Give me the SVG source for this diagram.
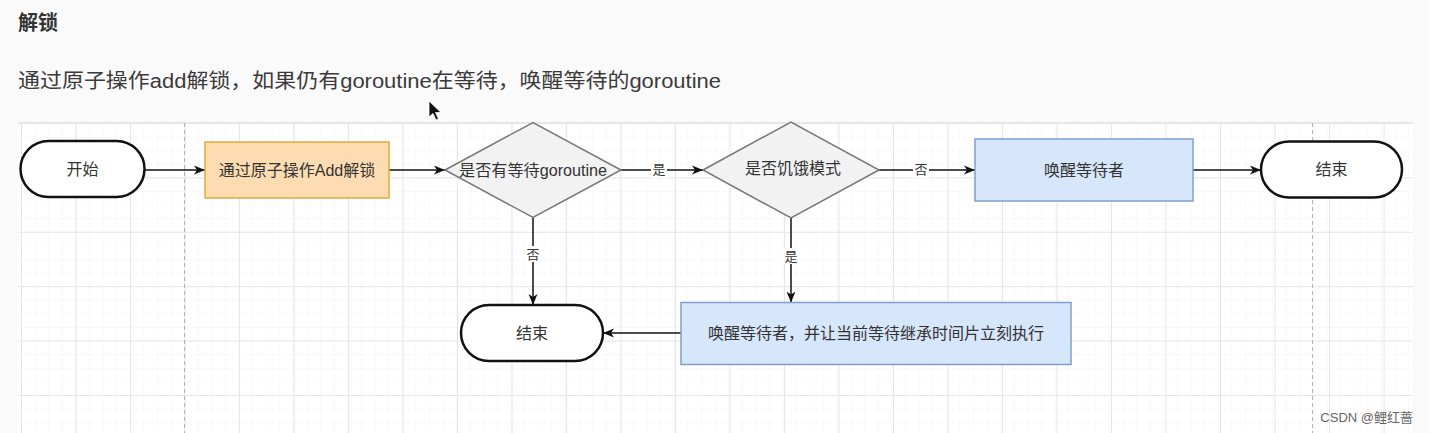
<svg xmlns="http://www.w3.org/2000/svg" width="1429" height="433" viewBox="0 0 1429 433">
<style>
  .t { font-family: "Liberation Sans", "Noto Sans CJK SC", sans-serif; fill: #333; text-anchor: middle; dominant-baseline: central; }
  .node { font-size: 16px; }
  .lbl { font-size: 13px; }
  .term { fill: #ffffff; stroke: #111; stroke-width: 2.5; }
  .proc-o { fill: #fddcb2; stroke: #dcab3e; stroke-width: 1.5; }
  .proc-b { fill: #d6e6fb; stroke: #7f9fcc; stroke-width: 1.5; }
  .dec { fill: #f2f2f2; stroke: #777; stroke-width: 1.5; }
  .edge { fill: none; stroke: #111; stroke-width: 1.5; }
  .lblbg { fill: #ffffff; }
</style>
<defs>
  <pattern id="minor" patternUnits="userSpaceOnUse" x="21" y="123" width="13.6" height="13.6">
    <path d="M0,0 L13.6,0 M0,0 L0,13.6" stroke="#f4f4f4" stroke-width="1" fill="none"/>
  </pattern>
  <pattern id="major" patternUnits="userSpaceOnUse" x="21" y="123" width="54.5" height="54.4">
    <path d="M0,0.5 L54.5,0.5 M0.5,0 L0.5,54.4" stroke="#e6e6e6" stroke-width="1.2" fill="none"/>
  </pattern>
  <marker id="arr" markerUnits="userSpaceOnUse" markerWidth="12" markerHeight="10" refX="11" refY="5" orient="auto">
    <path d="M0,0.5 L11,5 L0,9.5 L3,5 Z" fill="#111"/>
  </marker>
</defs>

<!-- page background -->
<rect x="0" y="0" width="1429" height="433" fill="#fafafa"/>
<text x="18" y="23" style="font-family: 'Liberation Sans','Noto Sans CJK SC',sans-serif; font-size: 20px; font-weight: bold; fill: #333; dominant-baseline: central;">解锁</text>
<text x="18" y="81" textLength="703" lengthAdjust="spacingAndGlyphs" style="font-family: 'Liberation Sans','Noto Sans CJK SC',sans-serif; font-size: 20px; fill: #3a3a3a; dominant-baseline: central;">通过原子操作add解锁，如果仍有goroutine在等待，唤醒等待的goroutine</text>

<!-- grid canvas -->
<rect x="18" y="122" width="1395" height="311" fill="#ffffff"/>
<rect x="18" y="122" width="1395" height="311" fill="url(#minor)"/>
<rect x="18" y="122" width="1395" height="311" fill="url(#major)"/>
<line x1="18" y1="122.5" x2="1413" y2="122.5" stroke="#e6e6e6" stroke-width="1"/>
<line x1="184.5" y1="123" x2="184.5" y2="433" stroke="#b5b5b5" stroke-width="1" stroke-dasharray="4,3"/>
<line x1="1312.5" y1="123" x2="1312.5" y2="433" stroke="#b5b5b5" stroke-width="1" stroke-dasharray="4,3"/>

<!-- connectors -->
<g id="connectors">
  <path class="edge" d="M145,170 L205,170" marker-end="url(#arr)"/>
  <path class="edge" d="M389,170 L445,170" marker-end="url(#arr)"/>
  <path class="edge" d="M621,170 L703,170" marker-end="url(#arr)"/>
  <path class="edge" d="M879,170 L975,170" marker-end="url(#arr)"/>
  <path class="edge" d="M1193,170 L1261,170" marker-end="url(#arr)"/>
  <path class="edge" d="M533,217.5 L533,305" marker-end="url(#arr)"/>
  <path class="edge" d="M791,218 L791,302.5" marker-end="url(#arr)"/>
  <path class="edge" d="M681,333 L603,333" marker-end="url(#arr)"/>
  <rect class="lblbg" x="651" y="162" width="16" height="16"/>
  <text class="t lbl" x="659" y="169">是</text>
  <rect class="lblbg" x="913" y="162" width="16" height="16"/>
  <text class="t lbl" x="921" y="169">否</text>
  <rect class="lblbg" x="525" y="246" width="16" height="16"/>
  <text class="t lbl" x="533" y="254">否</text>
  <rect class="lblbg" x="783" y="248" width="16" height="16"/>
  <text class="t lbl" x="791" y="256">是</text>
</g>

<g id="start">
  <rect class="term" x="20.5" y="141" width="124" height="56" rx="28" ry="28"/>
  <text class="t node" x="82.5" y="169">开始</text>
</g>
<g id="unlock">
  <rect class="proc-o" x="205" y="142" width="184" height="56"/>
  <text class="t node" x="297" y="170">通过原子操作Add解锁</text>
</g>
<g id="has-waiter">
  <polygon class="dec" points="445,170 533,122.5 621,170 533,217.5"/>
  <text class="t node" x="533" y="170" textLength="148" lengthAdjust="spacingAndGlyphs">是否有等待goroutine</text>
</g>
<g id="starving">
  <polygon class="dec" points="703,170 791,122 879,170 791,218"/>
  <text class="t node" x="793" y="168">是否饥饿模式</text>
</g>
<g id="wake">
  <rect class="proc-b" x="975" y="139" width="218" height="62"/>
  <text class="t node" x="1084" y="170">唤醒等待者</text>
</g>
<g id="end1">
  <rect class="term" x="1261" y="141.5" width="141" height="56" rx="28" ry="28"/>
  <text class="t node" x="1331.5" y="169.5">结束</text>
</g>
<g id="end2">
  <rect class="term" x="461" y="305" width="142" height="56" rx="28" ry="28"/>
  <text class="t node" x="532" y="333">结束</text>
</g>
<g id="wake-handoff">
  <rect class="proc-b" x="681" y="302.5" width="390" height="62"/>
  <text class="t node" x="876" y="333">唤醒等待者，并让当前等待继承时间片立刻执行</text>
</g>

<!-- mouse cursor -->
<path d="M429,101 L429,117 L433,113.5 L436,120 L438.5,119 L435.5,112.5 L441,112.5 Z" fill="#111" stroke="#fff" stroke-width="0.8"/>

<text x="1413" y="417" style="font-family: 'Liberation Sans','Noto Sans CJK SC',sans-serif; font-size: 13px; fill: #666; text-anchor: end; dominant-baseline: central;">CSDN @鲤红蔷</text>
</svg>
